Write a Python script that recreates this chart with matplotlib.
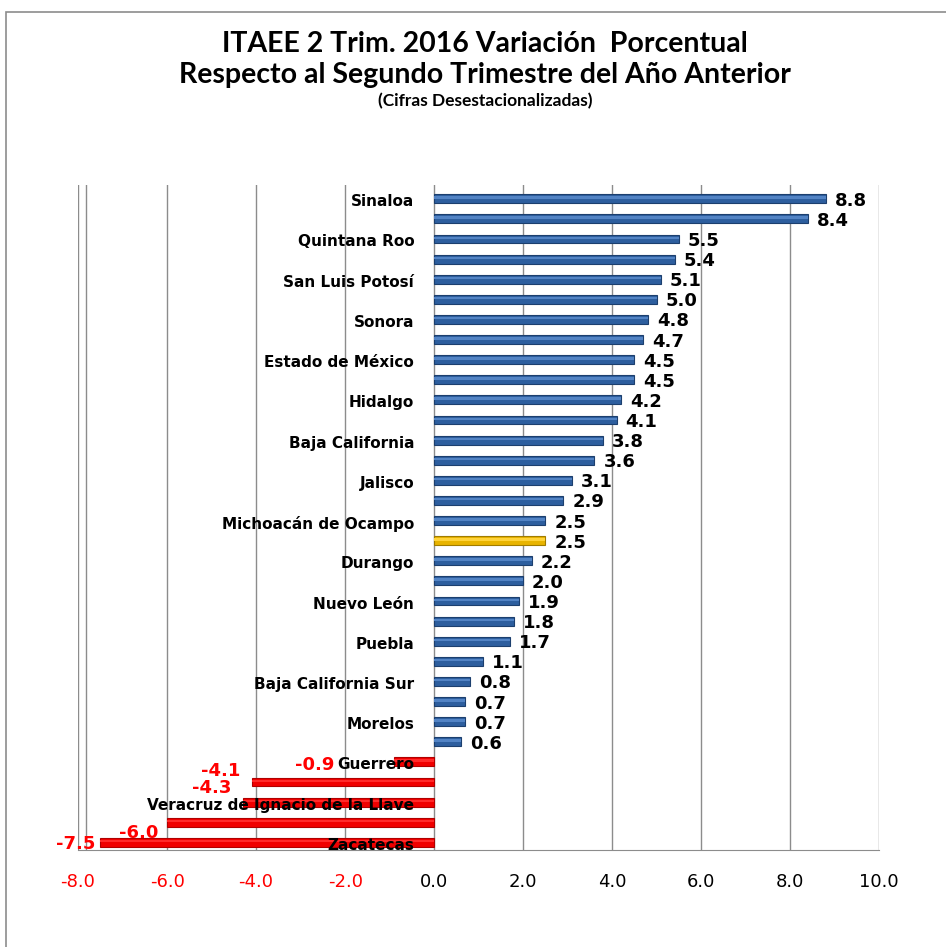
import matplotlib.pyplot as plt
from matplotlib.patches import Rectangle

# every second label is shown on the original chart, the rest are blank
states = ["Sinaloa", "", "Quintana Roo", "", "San Luis Potosí", "",
          "Sonora", "", "Estado de México", "", "Hidalgo", "",
          "Baja California", "", "Jalisco", "", "Michoacán de Ocampo", "",
          "Durango", "", "Nuevo León", "", "Puebla", "",
          "Baja California Sur", "", "Morelos", "", "Guerrero", "",
          "Veracruz de Ignacio de la Llave", "", "Zacatecas"]
values = [8.8, 8.4, 5.5, 5.4, 5.1, 5.0, 4.8, 4.7, 4.5, 4.5, 4.2, 4.1,
          3.8, 3.6, 3.1, 2.9, 2.5, 2.5, 2.2, 2.0, 1.9, 1.8, 1.7, 1.1,
          0.8, 0.7, 0.7, 0.6, -0.9, -4.1, -4.3, -6.0, -7.5]
highlight = 17  # national total (yellow bar)
xticks = [-8, -6, -4, -2, 0, 2, 4, 6, 8, 10]

# manual nudges for a few red labels (x, y in data units), like the original
label_nudge = {28: (-1.35, 0.15), 30: (-0.25, -0.68), 31: (-0.2, 0.55),
               32: (-0.1, 0.1)}


def main():
    fig = plt.figure(figsize=(9.46, 9.47), dpi=100)
    ax = fig.add_axes([0.0825, 0.102, 0.847, 0.703])

    colors = []
    edges = []
    shine = []
    for i, v in enumerate(values):
        if v < 0:
            colors.append("#F00000")
            edges.append("#B00000")
            shine.append("#FF2A2A")
        elif i == highlight:
            colors.append("#E8B400")
            edges.append("#A07C00")
            shine.append("#FFD33A")
        else:
            colors.append("#2D5E9E")
            edges.append("#1C3F6E")
            shine.append("#5283C4")

    ypos = list(range(len(values)))
    ax.barh(ypos, values, height=0.44, color=colors, edgecolor=edges,
            linewidth=0.8, zorder=3)
    # lighter strip to give the bars a bit of the cylinder look
    ax.barh([y - 0.06 for y in ypos], values, height=0.12, color=shine,
            linewidth=0, zorder=3)

    # value labels
    for i, v in enumerate(values):
        if v >= 0:
            ax.text(v + 0.2, i + 0.1, "%.1f" % v, ha="left", va="center",
                    fontsize=13, fontweight="bold", color="black", zorder=4)
        else:
            dx, dy = label_nudge.get(i, (-0.25, -0.55))
            ax.text(v + dx, i + dy, "%.1f" % v, ha="right", va="center",
                    fontsize=13, fontweight="bold", color="#FF0000", zorder=4)

    # category labels, drawn next to the zero line
    for i, name in enumerate(states):
        if name:
            ax.text(-0.45, i + 0.15, name, ha="right", va="center", fontsize=11,
                    fontweight="bold", color="black", zorder=5)

    ax.set_xlim(-8, 10)
    ax.set_ylim(32.4, -0.7)
    ax.set_yticks([])
    ax.set_xticks(xticks)
    ax.set_xticklabels(["%.1f" % t for t in xticks], fontsize=13)
    for lbl, t in zip(ax.get_xticklabels(), xticks):
        lbl.set_color("#FF0000" if t < 0 else "black")
    ax.tick_params(axis="x", length=0, pad=16)

    ax.grid(axis="x", color="#8C8C8C", linewidth=1.0, zorder=0)
    ax.axvline(-7.82, color="#8C8C8C", linewidth=1.0, zorder=0)
    for side in ["top", "right", "left"]:
        ax.spines[side].set_visible(False)
    ax.spines["bottom"].set_color("#8C8C8C")

    fig.text(0.513, 0.9535, "ITAEE 2 Trim. 2016 Variación  Porcentual",
             ha="center", va="center", fontsize=20.5, fontweight="bold",
             family="Lato")
    fig.text(0.513, 0.921, "Respecto al Segundo Trimestre del Año Anterior",
             ha="center", va="center", fontsize=20.5, fontweight="bold",
             family="Lato")
    fig.text(0.513, 0.893, "(Cifras Desestacionalizadas)", ha="center",
             va="center", fontsize=12.5, fontweight="bold", family="Lato")

    # chart frame (only top and left edges visible in the crop)
    fig.add_artist(Rectangle((0.006, -0.05), 1.2, 1.037, transform=fig.transFigure,
                             fill=False, edgecolor="#8C8C8C", linewidth=1.2))

    plt.savefig("out.png", dpi=100)


if __name__ == '__main__':
    main()
